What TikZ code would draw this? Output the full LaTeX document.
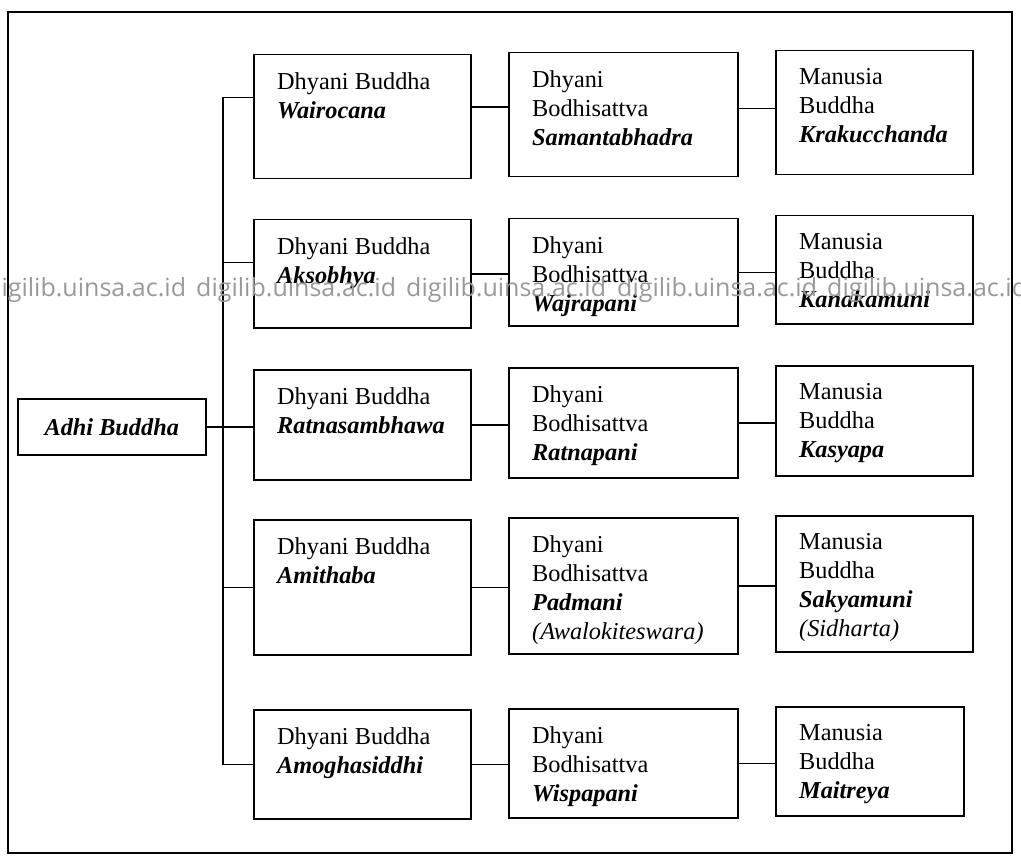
\documentclass[tikz,border=0pt]{standalone}
\usepackage{fontspec}
\setmainfont{Liberation Serif}
\newfontfamily\wmfont{Open Sans}
\definecolor{wmgray}{gray}{0.6}
\newcommand\cellfont{\fontsize{24.3}{29}\selectfont}
\newcommand\nm[1]{\textbf{\textit{#1}}}
\tikzset{
  cell/.style={draw, line width=1.5pt, anchor=north west, inner sep=0pt},
  celltext/.style={anchor=north west, align=left, inner sep=0pt, xshift=24pt, yshift=-18pt, font=\cellfont},
  link/.style={line width=1.5pt},
  wmark/.style={anchor=base west, inner sep=0pt, text=wmgray, font=\wmfont\fontsize{25}{30}\selectfont},
}
\begin{document}
\begin{tikzpicture}[x=1pt,y=-1pt]
 \useasboundingbox (0,0) rectangle (1021,856);
 \clip (0,0) rectangle (1021,856);
 \draw[line width=1.3pt] (8,12) rectangle (1012,853);
 % root
 \node[cell, minimum width=188pt, minimum height=56pt, font=\cellfont] (adhi) at (17,398) {\nm{Adhi Buddha}};
 % dhyani buddha
 \node[cell, minimum width=217pt, minimum height=124pt] (db1) at (253,54) {};
 \node[cell, minimum width=217pt, minimum height=108pt] (db2) at (253,219) {};
 \node[cell, minimum width=217pt, minimum height=110pt] (db3) at (253,369) {};
 \node[cell, minimum width=217pt, minimum height=135pt] (db4) at (253,519) {};
 \node[cell, minimum width=217pt, minimum height=109pt] (db5) at (253,709) {};
 \node[celltext] (db1t) at (db1.north west) {Dhyani Buddha\\\nm{Wairocana}};
 \node[celltext] (db2t) at (db2.north west) {Dhyani Buddha\\\nm{Aksobhya}};
 \node[celltext] (db3t) at (db3.north west) {Dhyani Buddha\\\nm{Ratnasambhawa}};
 \node[celltext] (db4t) at (db4.north west) {Dhyani Buddha\\\nm{Amithaba}};
 \node[celltext] (db5t) at (db5.north west) {Dhyani Buddha\\\nm{Amoghasiddhi}};
 % dhyani bodhisattva
 \node[cell, minimum width=229pt, minimum height=124pt] (bs1) at (508,52) {};
 \node[cell, minimum width=229pt, minimum height=107pt] (bs2) at (508,218) {};
 \node[cell, minimum width=229pt, minimum height=110pt] (bs3) at (508,367) {};
 \node[cell, minimum width=229pt, minimum height=136pt] (bs4) at (508,517) {};
 \node[cell, minimum width=229pt, minimum height=109pt] (bs5) at (508,708) {};
 \node[celltext] (bs1t) at (bs1.north west) {Dhyani\\Bodhisattva\\\nm{Samantabhadra}};
 \node[celltext] (bs2t) at (bs2.north west) {Dhyani\\Bodhisattva\\\nm{Wajrapani}};
 \node[celltext] (bs3t) at (bs3.north west) {Dhyani\\Bodhisattva\\\nm{Ratnapani}};
 \node[celltext] (bs4t) at (bs4.north west) {Dhyani\\Bodhisattva\\\nm{Padmani}\\\textit{(Awalokiteswara)}};
 \node[celltext] (bs5t) at (bs5.north west) {Dhyani\\Bodhisattva\\\nm{Wispapani}};
 % manusia buddha
 \node[cell, minimum width=197pt, minimum height=124pt] (mb1) at (775,50) {};
 \node[cell, minimum width=197pt, minimum height=108pt] (mb2) at (775,215) {};
 \node[cell, minimum width=197pt, minimum height=110pt] (mb3) at (775,365) {};
 \node[cell, minimum width=197pt, minimum height=136pt] (mb4) at (775,515) {};
 \node[cell, minimum width=188pt, minimum height=109pt] (mb5) at (775,706) {};
 \node[celltext] (mb1t) at (mb1.north west) {Manusia\\Buddha\\\nm{Krakucchanda}};
 \node[celltext] (mb2t) at (mb2.north west) {Manusia\\Buddha\\\nm{Kanakamuni}};
 \node[celltext] (mb3t) at (mb3.north west) {Manusia\\Buddha\\\nm{Kasyapa}};
 \node[celltext] (mb4t) at (mb4.north west) {Manusia\\Buddha\\\nm{Sakyamuni}\\\textit{(Sidharta)}};
 \node[celltext] (mb5t) at (mb5.north west) {Manusia\\Buddha\\\nm{Maitreya}};
 % bus from the root
 \draw[link] (db1.170) -- ++(-30,0) |- (db5.west);
 \draw[link] (db2.174) -- ++(-30,0);
 \draw[link] (db4.west) -- ++(-30,0);
 \draw[link] (adhi.east) -- (adhi.east -| db3.west);
 % rows
 \draw[link] (db1.5) -- (db1.5 -| bs1.west);
 \draw[link] (bs1.3.5) -- (bs1.3.5 -| mb1.west);
 \foreach \r in {2,...,5}{
  \draw[link] (db\r.east) -- (db\r.east -| bs\r.west);
  \draw[link] (bs\r.east) -- (bs\r.east -| mb\r.west);
 }
 % watermark
 \foreach \x [count=\i] in {-14,196,406,617,827}
  \node[wmark] (wm\i) at (\x,296) {digilib.uinsa.ac.id};
\end{tikzpicture}
\end{document}
